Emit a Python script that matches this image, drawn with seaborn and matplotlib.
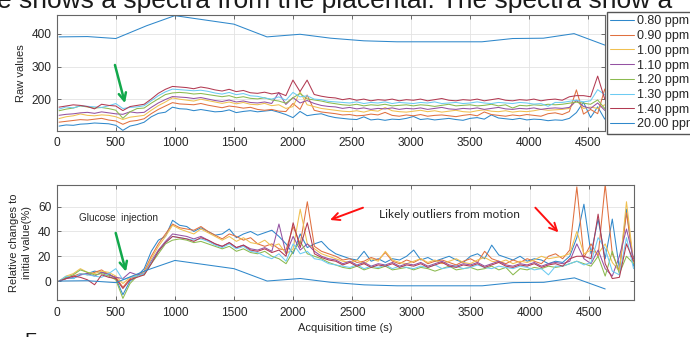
import numpy as np
import pandas as pd
import seaborn as sns
import matplotlib.pyplot as plt

labels = ["0.80 ppm", "0.90 ppm", "1.00 ppm", "1.10 ppm", "1.20 ppm",
          "1.30 ppm", "1.40 ppm", "20.00 ppm"]
colors = ["#2F88CB", "#E0703F", "#F0C050", "#9452A2", "#8BBA4F",
          "#6CCBF2", "#B23A52", "#2F88CB"]

# acquisition times (s) of the 7 low-ppm series
acq_time = [20, 80, 140, 200, 260, 320, 380, 440, 500, 560,
            620, 680, 740, 800, 860, 920, 980, 1040, 1100, 1160,
            1220, 1280, 1340, 1400, 1460, 1520, 1580, 1640, 1700, 1760,
            1820, 1880, 1940, 2000, 2060, 2120, 2180, 2240, 2300, 2360,
            2420, 2480, 2540, 2600, 2660, 2720, 2780, 2840, 2900, 2960,
            3020, 3080, 3140, 3200, 3260, 3320, 3380, 3440, 3500, 3560,
            3620, 3680, 3740, 3800, 3860, 3920, 3980, 4040, 4100, 4160,
            4220, 4280, 4340, 4400, 4460, 4520, 4580, 4640, 4700, 4760, 4820, 4880]

# initial raw value of each series
initial_raw = [118, 130, 141, 151, 165, 170, 176]

# relative change to initial value (%)
rel_080 = [0, 3, 2, 5, 6, 8, 7, 6, 2, -11,
           0, 4, 10, 24, 33, 36, 49, 45, 44, 40,
           43, 40, 37, 38, 42, 35, 38, 40, 37, 39,
           41, 36, 30, 22, 38, 27, 30, 32, 26, 22,
           20, 18, 17, 24, 16, 18, 15, 18, 17, 20,
           25, 17, 19, 16, 18, 20, 17, 15, 20, 22,
           18, 29, 21, 19, 17, 20, 16, 18, 17, 14,
           16, 15, 20, 35, 62, 22, 50, 18, 50, 10, 58, 12]
rel_090 = [0, 2, 4, 6, 5, 7, 9, 5, 3, -5,
           2, 4, 8, 20, 30, 38, 46, 43, 42, 41,
           44, 40, 37, 34, 38, 36, 33, 35, 30, 28,
           30, 26, 25, 44, 30, 64, 28, 24, 22, 20,
           17, 18, 15, 16, 19, 17, 23, 16, 14, 17,
           15, 18, 14, 16, 17, 15, 13, 16, 18, 15,
           24, 18, 16, 14, 17, 15, 18, 16, 14, 20,
           22, 18, 25, 76, 19, 30, 20, 78, 22, 8, 55, 15]
rel_100 = [0, 4, 6, 10, 7, 6, 8, 7, 4, -2,
           3, 5, 7, 18, 28, 36, 45, 42, 40, 38,
           42, 39, 36, 33, 36, 32, 35, 31, 30, 33,
           28, 30, 22, 26, 58, 30, 26, 22, 20, 18,
           16, 15, 17, 14, 18, 16, 24, 17, 15, 14,
           16, 18, 15, 17, 14, 16, 18, 15, 14, 17,
           19, 16, 15, 17, 14, 16, 15, 17, 20, 18,
           19, 20, 22, 40, 22, 25, 22, 30, 15, 8, 64, 15]
rel_110 = [0, 2, 3, 5, 6, 4, 7, 5, 3, 2,
           7, 5, 6, 16, 25, 32, 38, 37, 36, 34,
           36, 33, 30, 28, 31, 27, 29, 26, 25, 27,
           24, 46, 22, 36, 25, 30, 24, 20, 18, 17,
           14, 16, 13, 15, 12, 14, 13, 15, 12, 14,
           13, 15, 12, 14, 16, 13, 12, 14, 13, 15,
           12, 14, 16, 13, 12, 14, 13, 15, 12, 14,
           15, 14, 16, 30, 18, 14, 25, 10, 4, 20, 42, 18]
rel_120 = [0, 3, 5, 9, 7, 5, 6, 4, 1, -14,
           -2, 4, 5, 14, 22, 30, 33, 34, 33, 31,
           32, 30, 28, 26, 28, 24, 26, 23, 22, 24,
           20, 18, 14, 24, 32, 22, 20, 18, 15, 13,
           11, 10, 12, 9, 11, 10, 12, 9, 10, 11,
           9, 11, 10, 8, 10, 12, 9, 10, 11, 9,
           10, 12, 9, 11, 5, 10, 9, 11, 10, 12,
           11, 12, 14, 16, 14, 12, 20, 4, 24, 6, 20, 14]
rel_130 = [0, 4, 2, 6, 5, 4, 3, 6, 10, 1,
           3, 4, 6, 15, 24, 31, 36, 35, 34, 33,
           34, 32, 29, 27, 30, 26, 28, 24, 23, 20,
           18, 22, 16, 30, 22, 24, 18, 17, 14, 13,
           12, 11, 13, 10, 12, 11, 13, 10, 12, 11,
           10, 12, 11, 13, 10, 11, 12, 10, 11, 13,
           11, 10, 12, 11, 10, 12, 11, 9, 10, 5,
           12, 12, 14, 16, 13, 15, 35, 26, 8, 5, 35, 10]
rel_140 = [0, 2, 4, 3, 1, -3, 5, 3, 2, -6,
           1, 3, 5, 14, 24, 31, 36, 35, 34, 32,
           35, 33, 30, 28, 31, 27, 29, 25, 24, 26,
           23, 25, 20, 47, 27, 47, 22, 19, 17, 16,
           13, 15, 12, 14, 11, 13, 12, 14, 11, 13,
           12, 14, 11, 13, 15, 12, 11, 13, 12, 14,
           11, 13, 15, 12, 11, 13, 12, 14, 11, 13,
           14, 12, 18, 20, 20, 18, 54, 14, 2, 3, 30, 16]

# the 20.00 ppm reference peak is sampled more sparsely
t_20ppm = [20, 260, 500, 760, 1000, 1500, 1780, 2060, 2320, 2600,
           2880, 3600, 3860, 4120, 4380, 4640]
raw_20ppm = [391, 392, 386, 425, 456, 430, 391, 399, 387, 379,
             376, 376, 386, 387, 401, 366]

rel_series = [rel_080, rel_090, rel_100, rel_110, rel_120, rel_130, rel_140]

frames = []
for lab, base, rel in zip(labels[:7], initial_raw, rel_series):
    rel = np.asarray(rel, dtype=float)
    frames.append(pd.DataFrame({"time": acq_time, "raw": base * (1 + rel / 100),
                                "rel": rel, "label": lab}))
raw20 = np.asarray(raw_20ppm, dtype=float)
frames.append(pd.DataFrame({"time": t_20ppm, "raw": raw20,
                            "rel": (raw20 / raw20[0] - 1) * 100, "label": labels[7]}))
df = pd.concat(frames, ignore_index=True)

sns.set_theme(style="whitegrid")
plt.rcParams["font.family"] = ["Liberation Sans", "DejaVu Sans"]

fig = plt.figure(figsize=(6.9, 3.37), dpi=100)
ax_top = fig.add_axes([0.0822, 0.6113, 0.7946, 0.3442])
ax_bot = fig.add_axes([0.0822, 0.1098, 0.8367, 0.3412])

for ax, ycol in [(ax_top, "raw"), (ax_bot, "rel")]:
    sns.lineplot(data=df, x="time", y=ycol, hue="label", hue_order=labels,
                 palette=colors, estimator=None, linewidth=0.75, ax=ax, legend=False)
    ax.set_xticks(range(0, 5000, 500))
    ax.grid(True, color="#e3e3e3", linewidth=0.6)
    ax.tick_params(direction="in", bottom=True, top=True, left=True, right=True,
                   length=3, width=0.6, color="#555555", labelsize=8.6,
                   labelcolor="#262626", pad=4)
    for sp in ax.spines.values():
        sp.set_color("#666666")
        sp.set_linewidth(0.8)
    ax.set_xlabel("")

ax_top.set_xlim(0, 4642)
ax_top.set_ylim(103, 458)
ax_top.set_yticks([200, 300, 400])
ax_top.set_ylabel("Raw values", fontsize=8, va="center", color="#262626")
ax_top.yaxis.set_label_coords(-0.0657, 0.5)

ax_bot.set_xlim(0, 4884)
ax_bot.set_ylim(-15.3, 77.5)
ax_bot.set_yticks([0, 20, 40, 60])
ax_bot.set_ylabel("Relative changes to\ninitial value(%)", fontsize=8, va="center",
                  color="#262626", linespacing=1.3)
ax_bot.yaxis.set_label_coords(-0.0627, 0.5)
ax_bot.set_xlabel("Acquisition time (s)", fontsize=8, va="center", color="#262626")
ax_bot.xaxis.set_label_coords(0.5, -0.2435)
ax_bot.tick_params(axis="x", pad=5)

ax_top.legend(handles=ax_top.lines[:8], labels=labels, loc="upper left",
              bbox_to_anchor=(606.5 / 690, 325.5 / 337), bbox_transform=fig.transFigure,
              borderaxespad=0, fontsize=9, frameon=True, fancybox=False,
              edgecolor="#555555", framealpha=1, handlelength=1.9,
              handletextpad=0.25, labelspacing=0.22, borderpad=0.3)

green = "#12A84B"
arrow_g = dict(arrowstyle="->,head_length=0.45,head_width=0.22", color=green, lw=1.8,
               shrinkA=0, shrinkB=0)
ax_top.annotate("", xy=(578, 188), xytext=(493, 305), arrowprops=arrow_g)
ax_bot.annotate("", xy=(586, 7.5), xytext=(499, 38.8), arrowprops=arrow_g)
ax_bot.text(189, 50.9, "Glucose  injection", fontsize=7.2, va="center", color="#262626")

arrow_r = dict(arrowstyle="->,head_length=0.45,head_width=0.22", color="#FF1010", lw=1.4,
               shrinkA=0, shrinkB=0)
ax_bot.annotate("", xy=(2312, 49.3), xytext=(2591, 59.2), arrowprops=arrow_r)
ax_bot.annotate("", xy=(4244, 39.3), xytext=(4049, 59.2), arrowprops=arrow_r)
ax_bot.text(2729, 54.1, "Likely outliers from motion", fontsize=8.6, va="center",
            color="#262626", family=["Lato", "DejaVu Sans"])

# cut-off document text around the figure
fig.text(-0.004, (337 - 8) / 337, "e shows a spectra from the placental. The spectra show a",
         fontsize=19, va="baseline", color="#1a1a1a")
fig.text(24 / 690, 4 / 337, "F", fontsize=14, va="top", color="#1a1a1a")

fig.savefig("out.png", dpi=100)
